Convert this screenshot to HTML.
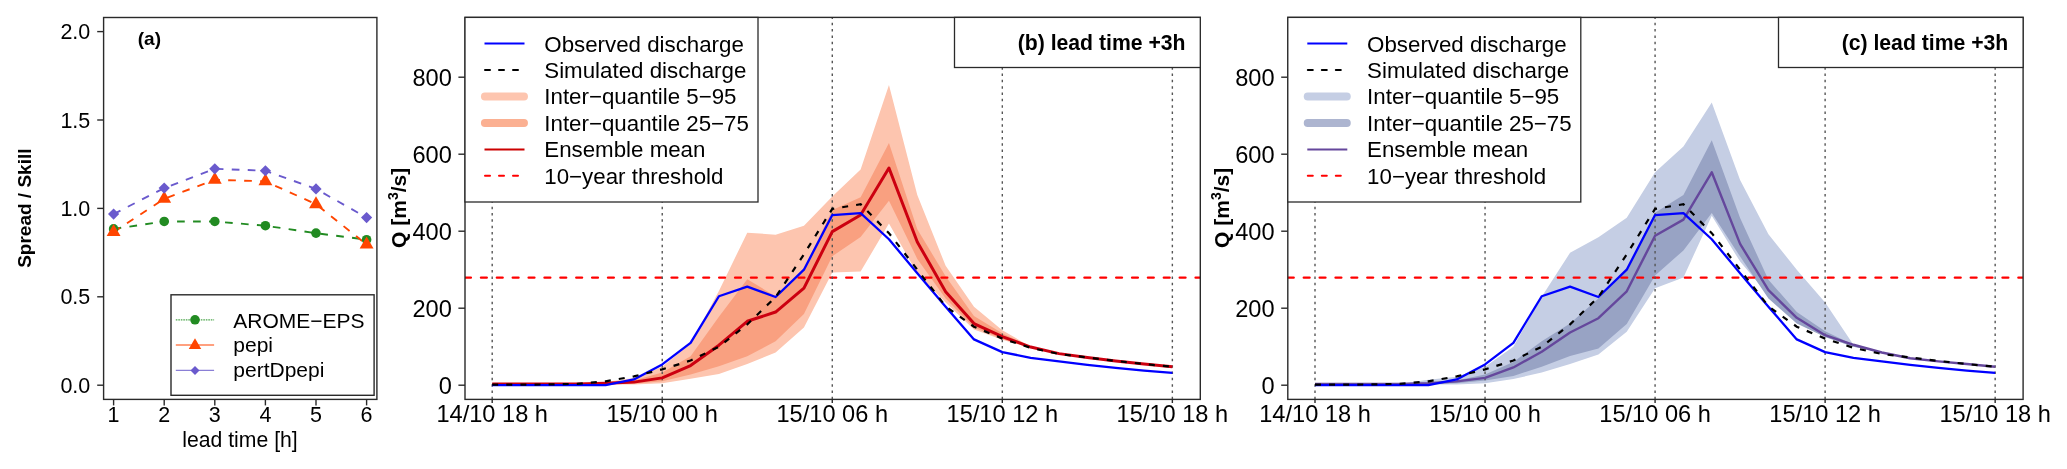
<!DOCTYPE html>
<html><head><meta charset="utf-8"><style>
html,body{margin:0;padding:0;background:#fff;}
svg{display:block;will-change:transform;}
text{font-family:"Liberation Sans", sans-serif;fill:#000;}
</style></head><body>
<svg width="2067" height="469" viewBox="0 0 2067 469">
<defs>
<clipPath id="clipA"><rect x="103.6" y="17.5" width="273.29999999999995" height="381.9"/></clipPath>
<clipPath id="clipB"><rect x="465" y="17.5" width="735.3" height="381.5"/></clipPath>
<clipPath id="clipC"><rect x="1287.8" y="17.5" width="735.3" height="381.5"/></clipPath>
</defs>
<rect width="2067" height="469" fill="#fff"/>
<rect x="103.6" y="17.5" width="273.29999999999995" height="381.9" fill="none" stroke="#2a2a2a" stroke-width="1.4"/>
<line x1="97.2" y1="385.2" x2="103.6" y2="385.2" stroke="#2a2a2a" stroke-width="1.4"/>
<text x="90.3" y="392.8" font-size="21.5" text-anchor="end">0.0</text>
<line x1="97.2" y1="296.8" x2="103.6" y2="296.8" stroke="#2a2a2a" stroke-width="1.4"/>
<text x="90.3" y="304.4" font-size="21.5" text-anchor="end">0.5</text>
<line x1="97.2" y1="208.4" x2="103.6" y2="208.4" stroke="#2a2a2a" stroke-width="1.4"/>
<text x="90.3" y="216" font-size="21.5" text-anchor="end">1.0</text>
<line x1="97.2" y1="120" x2="103.6" y2="120" stroke="#2a2a2a" stroke-width="1.4"/>
<text x="90.3" y="127.6" font-size="21.5" text-anchor="end">1.5</text>
<line x1="97.2" y1="31.6" x2="103.6" y2="31.6" stroke="#2a2a2a" stroke-width="1.4"/>
<text x="90.3" y="39.2" font-size="21.5" text-anchor="end">2.0</text>
<line x1="113.6" y1="399.4" x2="113.6" y2="405.4" stroke="#2a2a2a" stroke-width="1.4"/>
<text x="113.6" y="422" font-size="21.5" text-anchor="middle">1</text>
<line x1="164.2" y1="399.4" x2="164.2" y2="405.4" stroke="#2a2a2a" stroke-width="1.4"/>
<text x="164.2" y="422" font-size="21.5" text-anchor="middle">2</text>
<line x1="214.8" y1="399.4" x2="214.8" y2="405.4" stroke="#2a2a2a" stroke-width="1.4"/>
<text x="214.8" y="422" font-size="21.5" text-anchor="middle">3</text>
<line x1="265.4" y1="399.4" x2="265.4" y2="405.4" stroke="#2a2a2a" stroke-width="1.4"/>
<text x="265.4" y="422" font-size="21.5" text-anchor="middle">4</text>
<line x1="316" y1="399.4" x2="316" y2="405.4" stroke="#2a2a2a" stroke-width="1.4"/>
<text x="316" y="422" font-size="21.5" text-anchor="middle">5</text>
<line x1="366.6" y1="399.4" x2="366.6" y2="405.4" stroke="#2a2a2a" stroke-width="1.4"/>
<text x="366.6" y="422" font-size="21.5" text-anchor="middle">6</text>
<text x="240" y="446.7" font-size="21.2" text-anchor="middle">lead time [h]</text>
<text transform="translate(30.6,208.2) rotate(-90)" font-size="19" font-weight="bold" text-anchor="middle">Spread / Skill</text>
<text x="137.8" y="45.2" font-size="19" font-weight="bold">(a)</text>
<g clip-path="url(#clipA)">
<polyline points="113.6,228.91 164.2,221.48 214.8,221.48 265.4,225.73 316,233.15 366.6,239.69" fill="none" stroke="#228b22" stroke-width="1.9" stroke-dasharray="7.7 8.3"/>
<polyline points="113.6,232.09 164.2,198.85 214.8,179.76 265.4,181.35 316,204.16 366.6,244.47" fill="none" stroke="#ff4500" stroke-width="1.9" stroke-dasharray="7.7 8.3"/>
<polyline points="113.6,214.06 164.2,188.07 214.8,168.8 265.4,170.74 316,188.95 366.6,217.59" fill="none" stroke="#6a5acd" stroke-width="1.9" stroke-dasharray="7.7 8.3"/>
<circle cx="113.6" cy="228.91" r="4.8" fill="#228b22"/>
<circle cx="164.2" cy="221.48" r="4.8" fill="#228b22"/>
<circle cx="214.8" cy="221.48" r="4.8" fill="#228b22"/>
<circle cx="265.4" cy="225.73" r="4.8" fill="#228b22"/>
<circle cx="316" cy="233.15" r="4.8" fill="#228b22"/>
<circle cx="366.6" cy="239.69" r="4.8" fill="#228b22"/>
<polygon points="113.6,224.09 120.53,236.09 106.67,236.09" fill="#ff4500"/>
<polygon points="164.2,190.85 171.13,202.85 157.27,202.85" fill="#ff4500"/>
<polygon points="214.8,171.76 221.73,183.76 207.87,183.76" fill="#ff4500"/>
<polygon points="265.4,173.35 272.33,185.35 258.47,185.35" fill="#ff4500"/>
<polygon points="316,196.16 322.93,208.16 309.07,208.16" fill="#ff4500"/>
<polygon points="366.6,236.47 373.53,248.47 359.67,248.47" fill="#ff4500"/>
<polygon points="113.6,208.46 119.2,214.06 113.6,219.66 108,214.06" fill="#6a5acd"/>
<polygon points="164.2,182.47 169.8,188.07 164.2,193.67 158.6,188.07" fill="#6a5acd"/>
<polygon points="214.8,163.2 220.4,168.8 214.8,174.4 209.2,168.8" fill="#6a5acd"/>
<polygon points="265.4,165.14 271,170.74 265.4,176.34 259.8,170.74" fill="#6a5acd"/>
<polygon points="316,183.35 321.6,188.95 316,194.55 310.4,188.95" fill="#6a5acd"/>
<polygon points="366.6,211.99 372.2,217.59 366.6,223.19 361,217.59" fill="#6a5acd"/>
</g>
<rect x="171" y="294.8" width="203.10000000000002" height="100.5" fill="#fff" stroke="#2a2a2a" stroke-width="1.4"/>
<line x1="175.8" y1="319.8" x2="214.1" y2="319.8" stroke="#4da64d" stroke-width="1.3" stroke-dasharray="1.6 0.9"/>
<circle cx="195" cy="319.8" r="4.8" fill="#228b22"/>
<text x="233.3" y="327.8" font-size="21">AROME−EPS</text>
<line x1="175.8" y1="345.0" x2="214.1" y2="345.0" stroke="#ff8055" stroke-width="1.3"/>
<polygon points="195,338.3 201.24,349.1 188.76,349.1" fill="#ff4500"/>
<text x="233.3" y="352.2" font-size="21">pepi</text>
<line x1="175.8" y1="370.4" x2="214.1" y2="370.4" stroke="#8a7fd6" stroke-width="1.3"/>
<polygon points="195,365.9 199.5,370.4 195,374.9 190.5,370.4" fill="#6a5acd"/>
<text x="233.3" y="376.8" font-size="21">pertDpepi</text>
<g clip-path="url(#clipB)">
<polygon points="492.2,384.05 520.54,384.05 548.88,384.05 577.22,383.66 605.56,382.12 633.9,377.88 662.24,366.72 690.58,343.62 718.92,290.88 747.26,232.74 775.6,234.66 803.94,225.81 832.28,196.55 860.62,169.6 888.96,84.9 917.3,195.01 945.64,265.85 973.98,306.66 1002.32,330.14 1030.66,346.7 1059,353.25 1087.34,357.48 1115.68,360.94 1144.02,364.02 1172.36,366.72 1172.36,366.72 1144.02,364.02 1115.68,360.94 1087.34,357.48 1059,354.01 1030.66,347.86 1002.32,339.77 973.98,329.38 945.64,302.42 917.3,273.55 888.96,223.5 860.62,271.62 832.28,272.39 803.94,327.45 775.6,352.47 747.26,364.02 718.92,374.03 690.58,378.65 662.24,383.27 633.9,384.43 605.56,384.43 577.22,384.81 548.88,384.81 520.54,384.81 492.2,384.81" fill="#fdc5af"/>
<polygon points="492.2,384.05 520.54,384.05 548.88,384.05 577.22,384.05 605.56,382.89 633.9,380.58 662.24,372.5 690.58,356.32 718.92,316.67 747.26,279.32 775.6,296.26 803.94,269.31 832.28,210.02 860.62,197.32 888.96,143.03 917.3,229.27 945.64,276.25 973.98,315.9 1002.32,333.22 1030.66,346.7 1059,353.63 1087.34,357.48 1115.68,360.94 1144.02,364.02 1172.36,366.72 1172.36,366.72 1144.02,364.02 1115.68,360.94 1087.34,357.48 1059,353.63 1030.66,347.47 1002.32,339 973.98,327.45 945.64,298.57 917.3,258.92 888.96,200.78 860.62,236.97 832.28,256.23 803.94,313.97 775.6,341.31 747.26,356.32 718.92,366.33 690.58,374.42 662.24,381.35 633.9,383.66 605.56,384.05 577.22,384.43 548.88,384.43 520.54,384.43 492.2,384.43" fill="#f9a080"/>
<line x1="465.1" y1="277.6" x2="1200.3" y2="277.6" stroke="#ff0000" stroke-width="2.4" stroke-dasharray="5.8 10.08" stroke-linecap="round"/>
<line x1="492.2" y1="17.4" x2="492.2" y2="399.4" stroke="#555" stroke-width="1.4" stroke-dasharray="2.5 3.84" stroke-dashoffset="0.96"/>
<line x1="662.24" y1="17.4" x2="662.24" y2="399.4" stroke="#555" stroke-width="1.4" stroke-dasharray="2.5 3.84" stroke-dashoffset="0.96"/>
<line x1="832.28" y1="17.4" x2="832.28" y2="399.4" stroke="#555" stroke-width="1.4" stroke-dasharray="2.5 3.84" stroke-dashoffset="0.96"/>
<line x1="1002.32" y1="17.4" x2="1002.32" y2="399.4" stroke="#555" stroke-width="1.4" stroke-dasharray="2.5 3.84" stroke-dashoffset="0.96"/>
<line x1="1172.36" y1="17.4" x2="1172.36" y2="399.4" stroke="#555" stroke-width="1.4" stroke-dasharray="2.5 3.84" stroke-dashoffset="0.96"/>
<polyline points="492.2,384.05 520.54,384.05 548.88,384.05 577.22,384.05 605.56,383.27 633.9,382.12 662.24,377.88 690.58,365.56 718.92,345.16 747.26,321.29 775.6,312.05 803.94,288.18 832.28,231.58 860.62,215.03 888.96,168.06 917.3,241.98 945.64,291.64 973.98,323.6 1002.32,336.69 1030.66,347.08 1059,353.63 1087.34,357.48 1115.68,360.94 1144.02,364.02 1172.36,366.72" fill="none" stroke="#cc0010" stroke-width="3.0" stroke-linejoin="round"/>
<polyline points="492.2,385.2 520.54,385.2 548.88,385.2 577.22,385.2 605.56,385.2 633.9,379.43 662.24,364.41 690.58,342.85 718.92,296.26 747.26,286.64 775.6,297.03 803.94,269.7 832.28,215.03 860.62,213.1 888.96,239.28 917.3,273.16 945.64,306.66 973.98,339.38 1002.32,352.09 1030.66,357.87 1059,361.33 1087.34,364.79 1115.68,367.88 1144.02,370.57 1172.36,372.88" fill="none" stroke="#0000ff" stroke-width="2.3" stroke-linejoin="round"/>
<polyline points="492.2,384.62 520.54,384.62 548.88,384.43 577.22,383.85 605.56,381.35 633.9,376.34 662.24,369.41 690.58,360.56 718.92,346.7 747.26,324.37 775.6,297.03 803.94,254.3 832.28,208.87 860.62,204.25 888.96,233.12 917.3,269.7 945.64,306.27 973.98,326.68 1002.32,338.62 1030.66,347.86 1059,354.01 1087.34,357.48 1115.68,360.94 1144.02,364.02 1172.36,366.72" fill="none" stroke="#000" stroke-width="2.2" stroke-dasharray="6 8.1"/>
</g>
<rect x="465.0" y="17.4" width="735.3" height="382.0" fill="none" stroke="#2a2a2a" stroke-width="1.4"/>
<line x1="458.4" y1="385.2" x2="465.0" y2="385.2" stroke="#2a2a2a" stroke-width="1.4"/>
<text x="451.8" y="393.8" font-size="23.6" text-anchor="end">0</text>
<line x1="458.4" y1="308.2" x2="465.0" y2="308.2" stroke="#2a2a2a" stroke-width="1.4"/>
<text x="451.8" y="316.8" font-size="23.6" text-anchor="end">200</text>
<line x1="458.4" y1="231.2" x2="465.0" y2="231.2" stroke="#2a2a2a" stroke-width="1.4"/>
<text x="451.8" y="239.8" font-size="23.6" text-anchor="end">400</text>
<line x1="458.4" y1="154.2" x2="465.0" y2="154.2" stroke="#2a2a2a" stroke-width="1.4"/>
<text x="451.8" y="162.8" font-size="23.6" text-anchor="end">600</text>
<line x1="458.4" y1="77.2" x2="465.0" y2="77.2" stroke="#2a2a2a" stroke-width="1.4"/>
<text x="451.8" y="85.8" font-size="23.6" text-anchor="end">800</text>
<line x1="492.2" y1="399.4" x2="492.2" y2="403" stroke="#2a2a2a" stroke-width="1.4"/>
<text x="492.2" y="421.8" font-size="23.6" text-anchor="middle">14/10 18 h</text>
<line x1="662.24" y1="399.4" x2="662.24" y2="403" stroke="#2a2a2a" stroke-width="1.4"/>
<text x="662.24" y="421.8" font-size="23.6" text-anchor="middle">15/10 00 h</text>
<line x1="832.28" y1="399.4" x2="832.28" y2="403" stroke="#2a2a2a" stroke-width="1.4"/>
<text x="832.28" y="421.8" font-size="23.6" text-anchor="middle">15/10 06 h</text>
<line x1="1002.32" y1="399.4" x2="1002.32" y2="403" stroke="#2a2a2a" stroke-width="1.4"/>
<text x="1002.32" y="421.8" font-size="23.6" text-anchor="middle">15/10 12 h</text>
<line x1="1172.36" y1="399.4" x2="1172.36" y2="403" stroke="#2a2a2a" stroke-width="1.4"/>
<text x="1172.36" y="421.8" font-size="23.6" text-anchor="middle">15/10 18 h</text>
<text transform="translate(405.8,207.8) rotate(-90)" font-size="21" font-weight="bold" text-anchor="middle">Q [m<tspan font-size="14" dy="-8">3</tspan><tspan dy="8">/s]</tspan></text>
<rect x="465.0" y="17.4" width="293.0" height="184.6" fill="#fff" stroke="#2a2a2a" stroke-width="1.3"/>
<line x1="484.5" y1="43.6" x2="524.5" y2="43.6" stroke="#0000ff" stroke-width="2"/>
<text x="544.3" y="51.5" font-size="22.3">Observed discharge</text>
<line x1="485.0" y1="70.05" x2="490.0" y2="70.05" stroke="#000" stroke-width="2" stroke-linecap="round"/>
<line x1="499.0" y1="70.05" x2="504.0" y2="70.05" stroke="#000" stroke-width="2" stroke-linecap="round"/>
<line x1="513.0" y1="70.05" x2="518.0" y2="70.05" stroke="#000" stroke-width="2" stroke-linecap="round"/>
<text x="544.3" y="77.95" font-size="22.3">Simulated discharge</text>
<line x1="484.9" y1="96.5" x2="524" y2="96.5" stroke="#fdc5af" stroke-width="7.9" stroke-linecap="round"/>
<text x="544.3" y="104.4" font-size="22.3">Inter−quantile 5−95</text>
<line x1="484.9" y1="122.95" x2="524" y2="122.95" stroke="#fbb092" stroke-width="7.9" stroke-linecap="round"/>
<text x="544.3" y="130.85" font-size="22.3">Inter−quantile 25−75</text>
<line x1="484.5" y1="149.4" x2="524.5" y2="149.4" stroke="#cc0000" stroke-width="2"/>
<text x="544.3" y="157.3" font-size="22.3">Ensemble mean</text>
<line x1="485.0" y1="175.85" x2="490.0" y2="175.85" stroke="#ff0000" stroke-width="2" stroke-linecap="round"/>
<line x1="499.0" y1="175.85" x2="504.0" y2="175.85" stroke="#ff0000" stroke-width="2" stroke-linecap="round"/>
<line x1="513.0" y1="175.85" x2="518.0" y2="175.85" stroke="#ff0000" stroke-width="2" stroke-linecap="round"/>
<text x="544.3" y="183.75" font-size="22.3">10−year threshold</text>
<rect x="954.5" y="17.4" width="245.79999999999995" height="50.1" fill="#fff" stroke="#2a2a2a" stroke-width="1.3"/>
<text x="1185.5" y="50.3" font-size="21.2" font-weight="bold" text-anchor="end">(b) lead time +3h</text>
<g clip-path="url(#clipC)">
<polygon points="1315,384.05 1343.34,384.05 1371.68,384.05 1400.02,383.66 1428.36,379.81 1456.7,376.73 1485.04,366.72 1513.38,346.7 1541.72,296.65 1570.06,252.76 1598.4,237.36 1626.74,217.72 1655.08,172.29 1683.42,146.5 1711.76,102.61 1740.1,179.99 1768.44,234.28 1796.78,269.7 1825.12,302.42 1853.46,344.77 1881.8,352.47 1910.14,358.25 1938.48,361.33 1966.82,364.02 1995.16,366.72 1995.16,366.72 1966.82,364.02 1938.48,361.33 1910.14,358.25 1881.8,352.47 1853.46,346.7 1825.12,337.07 1796.78,321.68 1768.44,295.11 1740.1,261.62 1711.76,215.8 1683.42,277.4 1655.08,288.18 1626.74,331.69 1598.4,354.4 1570.06,364.02 1541.72,372.5 1513.38,379.04 1485.04,383.27 1456.7,384.43 1428.36,384.43 1400.02,384.81 1371.68,384.81 1343.34,384.81 1315,384.81" fill="#c5cee4"/>
<polygon points="1315,384.05 1343.34,384.05 1371.68,384.05 1400.02,384.05 1428.36,382.89 1456.7,380.58 1485.04,374.42 1513.38,362.1 1541.72,341.31 1570.06,323.6 1598.4,298.57 1626.74,268.93 1655.08,212.72 1683.42,195.01 1711.76,140.34 1740.1,218.11 1768.44,279.71 1796.78,312.05 1825.12,331.3 1853.46,344.77 1881.8,352.47 1910.14,358.25 1938.48,361.33 1966.82,364.02 1995.16,366.72 1995.16,366.72 1966.82,364.02 1938.48,361.33 1910.14,358.25 1881.8,352.47 1853.46,346.7 1825.12,337.07 1796.78,323.6 1768.44,298.57 1740.1,256.61 1711.76,213.1 1683.42,250.45 1655.08,275.47 1626.74,323.99 1598.4,348.62 1570.06,355.94 1541.72,366.72 1513.38,375.96 1485.04,380.58 1456.7,383.27 1428.36,384.05 1400.02,384.43 1371.68,384.43 1343.34,384.43 1315,384.43" fill="#98a3c4"/>
<line x1="1287.8999999999999" y1="277.6" x2="2023.1" y2="277.6" stroke="#ff0000" stroke-width="2.4" stroke-dasharray="5.8 10.08" stroke-linecap="round"/>
<line x1="1315" y1="17.4" x2="1315" y2="399.4" stroke="#555" stroke-width="1.4" stroke-dasharray="2.5 3.84" stroke-dashoffset="0.96"/>
<line x1="1485.04" y1="17.4" x2="1485.04" y2="399.4" stroke="#555" stroke-width="1.4" stroke-dasharray="2.5 3.84" stroke-dashoffset="0.96"/>
<line x1="1655.08" y1="17.4" x2="1655.08" y2="399.4" stroke="#555" stroke-width="1.4" stroke-dasharray="2.5 3.84" stroke-dashoffset="0.96"/>
<line x1="1825.12" y1="17.4" x2="1825.12" y2="399.4" stroke="#555" stroke-width="1.4" stroke-dasharray="2.5 3.84" stroke-dashoffset="0.96"/>
<line x1="1995.16" y1="17.4" x2="1995.16" y2="399.4" stroke="#555" stroke-width="1.4" stroke-dasharray="2.5 3.84" stroke-dashoffset="0.96"/>
<polyline points="1315,384.05 1343.34,384.05 1371.68,384.05 1400.02,384.05 1428.36,383.27 1456.7,381.35 1485.04,377.88 1513.38,367.49 1541.72,351.7 1570.06,332.45 1598.4,318.21 1626.74,291.26 1655.08,235.82 1683.42,219.65 1711.76,172.29 1740.1,243.9 1768.44,290.11 1796.78,317.82 1825.12,335.15 1853.46,344.77 1881.8,352.47 1910.14,358.25 1938.48,361.33 1966.82,364.02 1995.16,366.72" fill="none" stroke="#65479c" stroke-width="2.4" stroke-linejoin="round"/>
<polyline points="1315,385.2 1343.34,385.2 1371.68,385.2 1400.02,385.2 1428.36,385.2 1456.7,379.43 1485.04,364.41 1513.38,342.85 1541.72,296.26 1570.06,286.64 1598.4,297.03 1626.74,269.7 1655.08,215.03 1683.42,213.1 1711.76,239.28 1740.1,273.16 1768.44,306.66 1796.78,339.38 1825.12,352.09 1853.46,357.87 1881.8,361.33 1910.14,364.79 1938.48,367.88 1966.82,370.57 1995.16,372.88" fill="none" stroke="#0000ff" stroke-width="2.3" stroke-linejoin="round"/>
<polyline points="1315,384.62 1343.34,384.62 1371.68,384.43 1400.02,383.85 1428.36,381.35 1456.7,376.34 1485.04,369.41 1513.38,360.56 1541.72,346.7 1570.06,324.37 1598.4,297.03 1626.74,254.3 1655.08,208.87 1683.42,204.25 1711.76,233.12 1740.1,269.7 1768.44,306.27 1796.78,326.68 1825.12,338.62 1853.46,347.86 1881.8,354.01 1910.14,357.48 1938.48,360.94 1966.82,364.02 1995.16,366.72" fill="none" stroke="#000" stroke-width="2.2" stroke-dasharray="6 8.1"/>
</g>
<rect x="1287.8" y="17.4" width="735.3" height="382.0" fill="none" stroke="#2a2a2a" stroke-width="1.4"/>
<line x1="1281.2" y1="385.2" x2="1287.8" y2="385.2" stroke="#2a2a2a" stroke-width="1.4"/>
<text x="1274.6" y="393.8" font-size="23.6" text-anchor="end">0</text>
<line x1="1281.2" y1="308.2" x2="1287.8" y2="308.2" stroke="#2a2a2a" stroke-width="1.4"/>
<text x="1274.6" y="316.8" font-size="23.6" text-anchor="end">200</text>
<line x1="1281.2" y1="231.2" x2="1287.8" y2="231.2" stroke="#2a2a2a" stroke-width="1.4"/>
<text x="1274.6" y="239.8" font-size="23.6" text-anchor="end">400</text>
<line x1="1281.2" y1="154.2" x2="1287.8" y2="154.2" stroke="#2a2a2a" stroke-width="1.4"/>
<text x="1274.6" y="162.8" font-size="23.6" text-anchor="end">600</text>
<line x1="1281.2" y1="77.2" x2="1287.8" y2="77.2" stroke="#2a2a2a" stroke-width="1.4"/>
<text x="1274.6" y="85.8" font-size="23.6" text-anchor="end">800</text>
<line x1="1315" y1="399.4" x2="1315" y2="403" stroke="#2a2a2a" stroke-width="1.4"/>
<text x="1315" y="421.8" font-size="23.6" text-anchor="middle">14/10 18 h</text>
<line x1="1485.04" y1="399.4" x2="1485.04" y2="403" stroke="#2a2a2a" stroke-width="1.4"/>
<text x="1485.04" y="421.8" font-size="23.6" text-anchor="middle">15/10 00 h</text>
<line x1="1655.08" y1="399.4" x2="1655.08" y2="403" stroke="#2a2a2a" stroke-width="1.4"/>
<text x="1655.08" y="421.8" font-size="23.6" text-anchor="middle">15/10 06 h</text>
<line x1="1825.12" y1="399.4" x2="1825.12" y2="403" stroke="#2a2a2a" stroke-width="1.4"/>
<text x="1825.12" y="421.8" font-size="23.6" text-anchor="middle">15/10 12 h</text>
<line x1="1995.16" y1="399.4" x2="1995.16" y2="403" stroke="#2a2a2a" stroke-width="1.4"/>
<text x="1995.16" y="421.8" font-size="23.6" text-anchor="middle">15/10 18 h</text>
<text transform="translate(1228.6,207.8) rotate(-90)" font-size="21" font-weight="bold" text-anchor="middle">Q [m<tspan font-size="14" dy="-8">3</tspan><tspan dy="8">/s]</tspan></text>
<rect x="1287.8" y="17.4" width="293.0" height="184.6" fill="#fff" stroke="#2a2a2a" stroke-width="1.3"/>
<line x1="1307.3" y1="43.6" x2="1347.3" y2="43.6" stroke="#0000ff" stroke-width="2"/>
<text x="1367.1" y="51.5" font-size="22.3">Observed discharge</text>
<line x1="1307.8" y1="70.05" x2="1312.8" y2="70.05" stroke="#000" stroke-width="2" stroke-linecap="round"/>
<line x1="1321.8" y1="70.05" x2="1326.8" y2="70.05" stroke="#000" stroke-width="2" stroke-linecap="round"/>
<line x1="1335.8" y1="70.05" x2="1340.8" y2="70.05" stroke="#000" stroke-width="2" stroke-linecap="round"/>
<text x="1367.1" y="77.95" font-size="22.3">Simulated discharge</text>
<line x1="1307.6999999999998" y1="96.5" x2="1346.8" y2="96.5" stroke="#c5cee4" stroke-width="7.9" stroke-linecap="round"/>
<text x="1367.1" y="104.4" font-size="22.3">Inter−quantile 5−95</text>
<line x1="1307.6999999999998" y1="122.95" x2="1346.8" y2="122.95" stroke="#adb5d0" stroke-width="7.9" stroke-linecap="round"/>
<text x="1367.1" y="130.85" font-size="22.3">Inter−quantile 25−75</text>
<line x1="1307.3" y1="149.4" x2="1347.3" y2="149.4" stroke="#65479c" stroke-width="2"/>
<text x="1367.1" y="157.3" font-size="22.3">Ensemble mean</text>
<line x1="1307.8" y1="175.85" x2="1312.8" y2="175.85" stroke="#ff0000" stroke-width="2" stroke-linecap="round"/>
<line x1="1321.8" y1="175.85" x2="1326.8" y2="175.85" stroke="#ff0000" stroke-width="2" stroke-linecap="round"/>
<line x1="1335.8" y1="175.85" x2="1340.8" y2="175.85" stroke="#ff0000" stroke-width="2" stroke-linecap="round"/>
<text x="1367.1" y="183.75" font-size="22.3">10−year threshold</text>
<rect x="1778.5" y="17.4" width="244.5999999999999" height="50.1" fill="#fff" stroke="#2a2a2a" stroke-width="1.3"/>
<text x="2008.3" y="50.3" font-size="21.2" font-weight="bold" text-anchor="end">(c) lead time +3h</text>
</svg></body></html>
